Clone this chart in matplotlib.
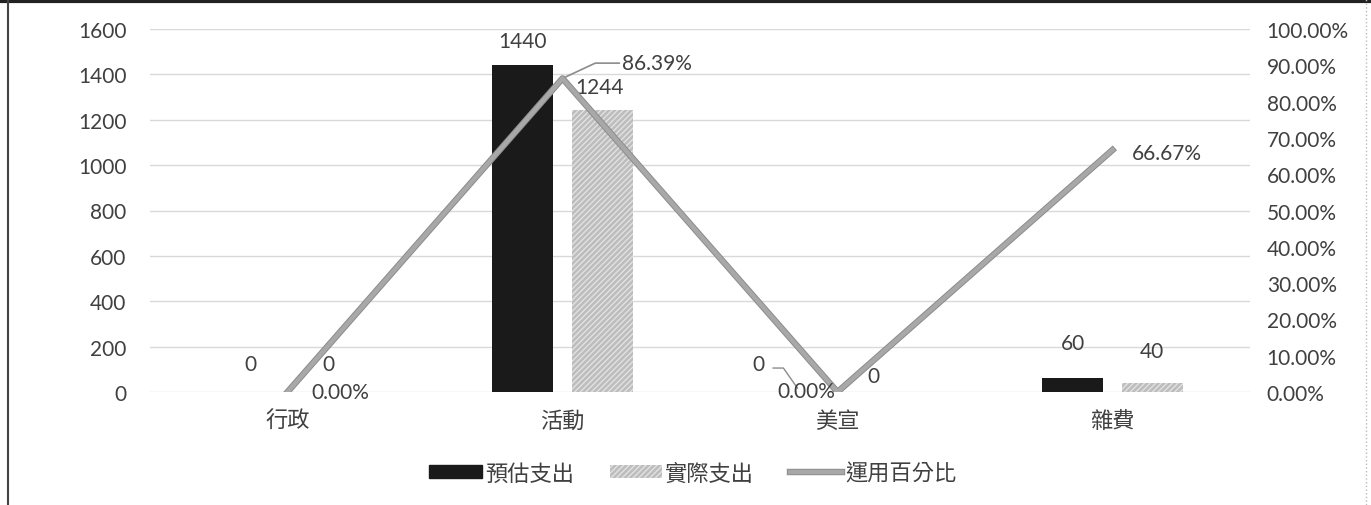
import matplotlib
matplotlib.use("Agg")
import matplotlib.pyplot as plt
import matplotlib.patheffects as pe
from matplotlib.patches import Patch
from matplotlib.lines import Line2D
import numpy as np

plt.rcParams['font.family'] = ['Lato', 'Noto Sans CJK TC', 'DejaVu Sans']

categories = ['行政', '活動', '美宣', '雜費']
estimated = [0, 1440, 0, 60]
actual = [0, 1244, 0, 40]
usage_pct = [0.0, 0.8639, 0.0, 0.6667]
pct_labels = ['0.00%', '86.39%', '0.00%', '66.67%']
left_ticks = [0, 200, 400, 600, 800, 1000, 1200, 1400, 1600]
right_ticks = [0.0, 0.1, 0.2, 0.3, 0.4, 0.5, 0.6, 0.7, 0.8, 0.9, 1.0]
legend_labels = ['預估支出', '實際支出', '運用百分比']

fig = plt.figure(figsize=(13.71, 5.06), dpi=100)
ax = fig.add_axes([150/1371, 1-393/506, 1100/1371, 363/506])
ax2 = ax.twinx()

x = np.arange(len(categories))
w = 0.222
off = 0.145
black = '#1a1a1a'
gray_face = '#bdbdbd'
line_col = '#a8a8a8'
txt_col = '#404040'

ax.bar(x - off, estimated, w, color=black, zorder=3)
ax.bar(x + off, actual, w, facecolor=gray_face, edgecolor='#e2e2e2',
       hatch='//////', linewidth=0, zorder=3)

ax.set_xlim(-0.5, len(categories) - 0.5)
ax.set_ylim(0, 1600)
ax.set_yticks(left_ticks)
ax.set_yticklabels([str(t) for t in left_ticks])
ax.grid(axis='y', color='#d9d9d9', linewidth=1, zorder=0)
ax.set_axisbelow(True)
for s in ax.spines.values():
    s.set_visible(False)
for s in ax2.spines.values():
    s.set_visible(False)
ax.tick_params(axis='both', length=0, labelsize=15, colors=txt_col)
ax.tick_params(axis='y', pad=17)
ax.set_xticks(x)
ax.set_xticklabels(categories, fontsize=16, color=txt_col, family=['Noto Sans CJK TC'])
ax.tick_params(axis='x', pad=12)

ax2.set_ylim(0, 1.0)
ax2.set_yticks(right_ticks)
ax2.set_yticklabels([f'{t*100:.2f}%' for t in right_ticks])
ax2.tick_params(axis='y', length=0, labelsize=15, colors=txt_col, pad=12)

line_fx = [pe.Stroke(linewidth=4.6, foreground='#8c8c8c'), pe.Normal()]
ax2.plot(x, usage_pct, color=line_col, linewidth=3.2, zorder=4, path_effects=line_fx)

lab_kw = dict(fontsize=15, color=txt_col, ha='center', va='bottom')
bar_offsets_est = [(2, 13), (0, 10), (-28, 13), (0, 18)]
bar_offsets_act = [(1, 13), (-2, 9), (-3, 4), (0, 16)]
for i in range(len(categories)):
    dx, dy = bar_offsets_est[i]
    ax.annotate(str(estimated[i]), (x[i] - off, estimated[i]), xytext=(dx, dy),
                textcoords='offset points', **lab_kw)
    dx, dy = bar_offsets_act[i]
    ax.annotate(str(actual[i]), (x[i] + off, actual[i]), xytext=(dx, dy),
                textcoords='offset points', **lab_kw)

pct_kw = dict(fontsize=15, color=txt_col, va='center', ha='left', zorder=6)
ax2.annotate(pct_labels[0], (x[0], usage_pct[0]), xytext=(17, 0), textcoords='offset points', **pct_kw)
ax2.annotate(pct_labels[1], (x[1], usage_pct[1]), xytext=(43, 11), textcoords='offset points',
             arrowprops=dict(arrowstyle='-', color='#8c8c8c', lw=1.2,
                             connectionstyle='angle,angleA=0,angleB=25,rad=0',
                             shrinkA=0, shrinkB=2), **pct_kw)
ax2.annotate(pct_labels[2], (x[2], usage_pct[2]), xytext=(-43, 1), textcoords='offset points', **pct_kw)
ax2.annotate(pct_labels[3], (x[3], usage_pct[3]), xytext=(14, -2), textcoords='offset points', **pct_kw)

# leader line by the 美宣 zero label
ax2.annotate('', xy=(x[2] - 0.145, 0.01), xytext=(x[2] - 0.235, 0.066),
             arrowprops=dict(arrowstyle='-', color='#8c8c8c', lw=1,
                             connectionstyle='angle,angleA=0,angleB=-55,rad=0',
                             shrinkA=0, shrinkB=0))

handles = [Patch(facecolor=black, edgecolor=black),
           Patch(facecolor=gray_face, edgecolor='#e2e2e2', hatch='//////', linewidth=0),
           Line2D([0], [0], color=line_col, linewidth=3.2, path_effects=line_fx)]
leg = fig.legend(handles, legend_labels, loc='center', bbox_to_anchor=(693/1371, 1-474/506),
                 ncol=3, frameon=False, handlelength=2.35, handleheight=0.5,
                 columnspacing=1.6, handletextpad=0.15,
                 prop={'family': ['Noto Sans CJK TC'], 'size': 16})
for t in leg.get_texts():
    t.set_color(txt_col)

# scan border
fig.add_artist(Line2D([0, 1], [1 - 2/506, 1 - 2/506], color='#222222', linewidth=3, transform=fig.transFigure))
fig.add_artist(Line2D([8/1371, 8/1371], [0, 1], color='#444444', linewidth=1.5, transform=fig.transFigure))
fig.add_artist(Line2D([1366/1371, 1366/1371], [0, 1], color='#bbbbbb', linewidth=1, linestyle=':', transform=fig.transFigure))

fig.savefig('out.png', dpi=100)
